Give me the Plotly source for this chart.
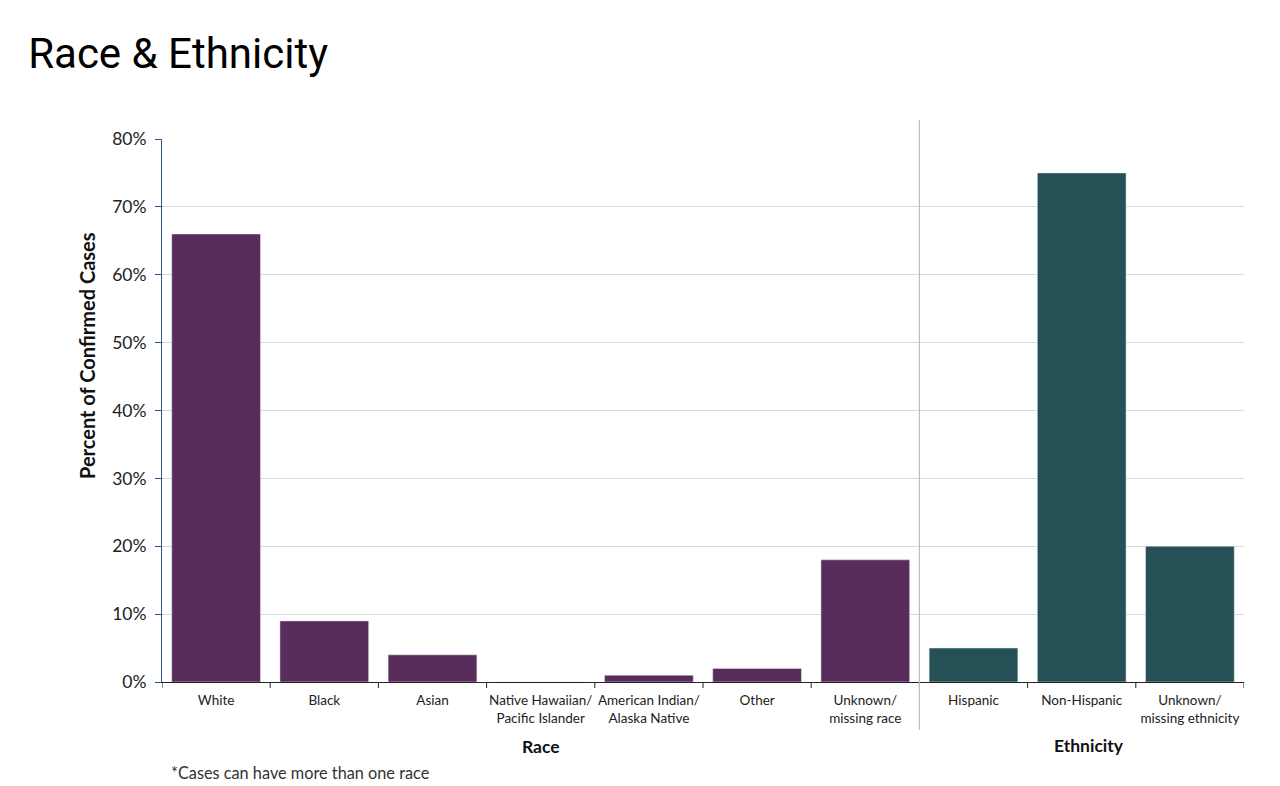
import plotly.graph_objects as go

categories = ["White", "Black", "Asian", "Native Hawaiian/<br>Pacific Islander",
              "American Indian/<br>Alaska Native", "Other", "Unknown/<br>missing race",
              "Hispanic", "Non-Hispanic", "Unknown/<br>missing ethnicity"]
values = [66, 9, 4, 0, 1, 2, 18, 5, 75, 20]
groups = ["Race"] * 7 + ["Ethnicity"] * 3
group_colors = {"Race": "#582C5B", "Ethnicity": "#245056"}
yticks = [0, 10, 20, 30, 40, 50, 60, 70, 80]

colors = [group_colors[g] for g in groups]
idx = list(range(len(categories)))

fig = go.Figure()
fig.add_trace(go.Bar(x=idx, y=values, marker=dict(color=colors, line=dict(width=0.5, color="#e8e8e8")),
                     showlegend=False))

FONT = "Lato"
fig.update_layout(
    width=1280, height=786,
    margin=dict(l=162, r=36, t=139, b=104),
    paper_bgcolor="white", plot_bgcolor="white",
    bargap=0.18,
    font=dict(family=FONT, color="#222"),
    title=dict(text="Race & Ethnicity", x=0.022, xanchor="left", y=0.932, yanchor="middle",
               font=dict(family="Roboto", size=42, color="black")),
)
fig.update_xaxes(
    tickmode="array", tickvals=idx, ticktext=categories,
    range=[-0.5, 9.5], automargin=False, tickangle=0,
    showline=True, linecolor="#222", linewidth=1,
    showgrid=False, ticks="", ticklabelstandoff=6,
    tickfont=dict(family=FONT, size=13.5, color="#222"),
)
fig.update_yaxes(
    range=[0, 80], tickvals=yticks, ticktext=[f"{v}%" for v in yticks],
    automargin=False,
    showline=True, linecolor="#2F5597", linewidth=1,
    showgrid=True, gridcolor="#D9D9D9", gridwidth=1,
    ticks="outside", ticklen=6, tickcolor="#2F5597", ticklabelstandoff=5,
    tickfont=dict(family=FONT, size=17.5, color="#222"),
    zeroline=False,
)
# y axis title (placed above centre as in the reference)
fig.add_annotation(text="<b>Percent of Confirmed Cases</b>", textangle=-90, showarrow=False,
                   xref="paper", yref="paper", x=-(162-87)/1082, y=(682-356)/543,
                   xanchor="center", yanchor="middle",
                   font=dict(family=FONT, size=20, color="#111"))
# boundary tick marks below the x axis
for b in [i + 0.5 for i in range(-1, 10)]:
    fig.add_shape(type="line", xref="x", yref="paper", x0=b, x1=b, y0=0, y1=-0.011,
                  line=dict(color="#222", width=1))
# separator between Race and Ethnicity
fig.add_shape(type="line", xref="x", yref="paper", x0=6.5, x1=6.5, y0=-0.088, y1=1.035,
              line=dict(color="#BFBFBF", width=1.2))
fig.add_annotation(text="<b>Race</b>", x=3, xref="x", y=-(746-682)/543, yref="paper", showarrow=False,
                   font=dict(family=FONT, size=17.5, color="#111"), yanchor="middle")
fig.add_annotation(text="<b>Ethnicity</b>", x=8.07, xref="x", y=-(745-682)/543, yref="paper", showarrow=False,
                   font=dict(family=FONT, size=17.5, color="#111"), yanchor="middle")
fig.add_annotation(text="*Cases can have more than one race", xref="paper", yref="paper",
                   x=(169-162)/1082, xanchor="left", y=-(772-682)/543, yanchor="middle",
                   showarrow=False, font=dict(family=FONT, size=16.3, color="#333"))

fig.write_html("out.html", config={"displayModeBar": False},
               post_script="document.body.style.margin='0';document.body.style.padding='0';")
